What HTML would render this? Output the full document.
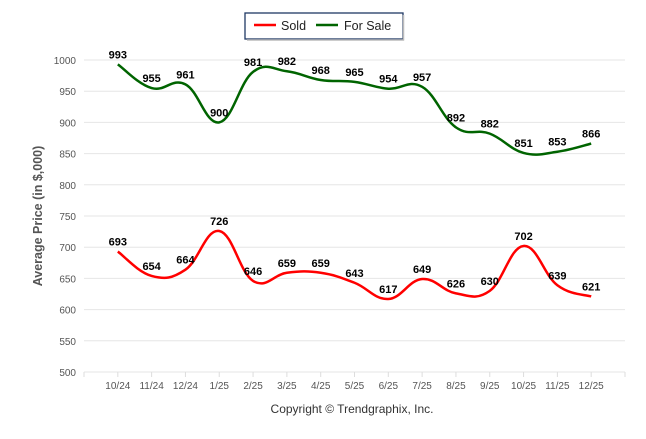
<!DOCTYPE html>
<html><head><meta charset="utf-8"><style>
body{margin:0;background:#fff;font-family:"Liberation Sans",sans-serif;}
svg text{font-family:"Liberation Sans",sans-serif;}
</style></head><body>
<svg width="646" height="434" id="chart">
<rect x="245" y="13" width="158" height="26" fill="#fff" stroke="#1f3864" stroke-width="1.3"/>
<line x1="403.5" y1="15" x2="403.5" y2="40.5" stroke="#bbb" stroke-width="1.5"/>
<line x1="247" y1="40" x2="404" y2="40" stroke="#bbb" stroke-width="1.5"/>
<g><line x1="254" y1="25" x2="276" y2="25" stroke="#f00" stroke-width="2.5"/><text x="281" y="30" font-size="12.5" fill="#222">Sold</text></g>
<g><line x1="316" y1="25" x2="338" y2="25" stroke="#006400" stroke-width="2.5"/><text x="344" y="30" font-size="12.5" fill="#222">For Sale</text></g>
<text transform="translate(42,216) rotate(-90)" text-anchor="middle" font-size="12.5" font-weight="bold" fill="#555">Average Price (in $,000)</text>
<text x="352" y="413" text-anchor="middle" font-size="12" fill="#333">Copyright © Trendgraphix, Inc.</text>
<g id="grid"></g><g id="xaxis"></g><g id="series"></g>
</svg>
<script>
const categories=["10/24","11/24","12/24","1/25","2/25","3/25","4/25","5/25","6/25","7/25","8/25","9/25","10/25","11/25","12/25"];
const forSale=[993,955,961,900,981,982,968,965,954,957,892,882,851,853,866];
const sold=[693,654,664,726,646,659,659,643,617,649,626,630,702,639,621];
const yTicks=[500,550,600,650,700,750,800,850,900,950,1000];
const NS="http://www.w3.org/2000/svg";
const x0=84,x1=625,yBase=372,yTop=60,vMin=500,vMax=1000;
const step=(x1-x0)/(categories.length+1);
const X=i=>x0+(i+1)*step;
const Y=v=>yBase-(v-vMin)/(vMax-vMin)*(yBase-yTop);
function mk(t,a,p){const e=document.createElementNS(NS,t);for(const k in a)e.setAttribute(k,a[k]);p.appendChild(e);return e;}
const grid=document.getElementById('grid');
yTicks.forEach(v=>{
 const l=mk('line',{x1:x0,x2:x1,y1:Y(v),y2:Y(v),stroke:'#e6e6e6','stroke-width':1},grid);
 
 
 const t=mk('text',{x:x0-8,y:Y(v)+4,'text-anchor':'end','font-size':10,fill:'#555'},grid);
 t.textContent=v;
 
 
});
const xa=document.getElementById('xaxis');
for(let i=0;i<=categories.length+1;i++){mk('line',{x1:x0+i*step,x2:x0+i*step,y1:yBase,y2:yBase+5,stroke:'#ddd'},xa);}
categories.forEach((c,i)=>{
 const t=mk('text',{x:X(i),y:yBase+17,'text-anchor':'middle','font-size':10,fill:'#555'},xa);
 t.textContent=c;
 
 
});
function path(vals){
 const p=vals.map((v,i)=>[X(i),Y(v)]);const t=0.2;
 let d='M'+p[0][0]+','+p[0][1];
 for(let i=0;i<p.length-1;i++){
  const a=p[i-1]||p[i],b=p[i],c=p[i+1],e=p[i+2]||c;
  d+=' C'+(b[0]+(c[0]-a[0])*t)+','+(b[1]+(c[1]-a[1])*t)+' '+(c[0]-(e[0]-b[0])*t)+','+(c[1]-(e[1]-b[1])*t)+' '+c[0]+','+c[1];
 }
 return d;
}
const sg=document.getElementById('series');
[[forSale,'#006400','for-sale'],[sold,'#f00','sold']].forEach(([vals,col,nm])=>{
 const l=mk('path',{d:path(vals),fill:'none',stroke:col,'stroke-width':2.5},sg);
 
 
 vals.forEach((v,i)=>{
  const t=mk('text',{x:X(i),y:Y(v)-6,'text-anchor':'middle','font-size':11,'font-weight':'bold',fill:'#000'},sg);
  t.textContent=v;
  
  
 });
});
</script>
</body></html>
